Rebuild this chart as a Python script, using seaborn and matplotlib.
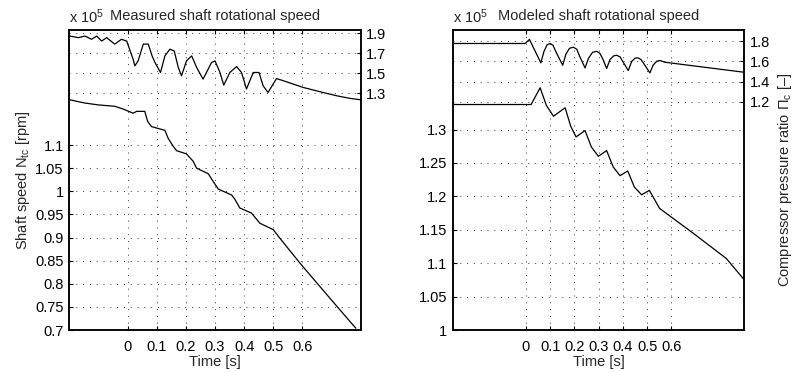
import matplotlib
matplotlib.use("Agg")
import matplotlib.pyplot as plt
import seaborn as sns

# ---------------- data ----------------
# Measured: shaft speed (x1e5 rpm), left axis
meas_speed_t = [-0.198, -0.169, -0.146, -0.101, -0.044, -0.015, 0.019, 0.031, 0.059, 0.069,
                0.082, 0.128, 0.139, 0.157, 0.168, 0.202, 0.225, 0.237, 0.277, 0.294,
                0.311, 0.357, 0.368, 0.385, 0.425, 0.454, 0.5, 0.522, 0.591, 0.66, 0.728, 0.783]
meas_speed_v = [1.198, 1.194, 1.191, 1.187, 1.184, 1.178, 1.169, 1.173, 1.173, 1.151,
                1.140, 1.132, 1.115, 1.097, 1.088, 1.081, 1.065, 1.050, 1.038, 1.021,
                1.005, 0.992, 0.983, 0.964, 0.953, 0.931, 0.917, 0.899, 0.845, 0.794, 0.744, 0.704]

# Measured: compressor pressure ratio, right axis
meas_pr_t = [-0.198, -0.169, -0.146, -0.124, -0.106, -0.089, -0.072, -0.044, -0.021, -0.003,
             0.019, 0.025, 0.036, 0.054, 0.071, 0.084, 0.094, 0.113, 0.128, 0.145,
             0.16, 0.174, 0.185, 0.202, 0.22, 0.237, 0.259, 0.288, 0.3, 0.317,
             0.33, 0.351, 0.374, 0.391, 0.408, 0.431, 0.451, 0.465, 0.482, 0.511,
             0.545, 0.602, 0.66, 0.717, 0.763, 0.797]
meas_pr_v = [1.87, 1.854, 1.87, 1.838, 1.87, 1.82, 1.854, 1.79, 1.838, 1.82,
             1.64, 1.574, 1.623, 1.79, 1.79, 1.673, 1.607, 1.508, 1.673, 1.739,
             1.722, 1.557, 1.475, 1.623, 1.673, 1.557, 1.442, 1.607, 1.623, 1.508,
             1.383, 1.508, 1.567, 1.508, 1.344, 1.508, 1.508, 1.376, 1.31, 1.448,
             1.416, 1.36, 1.317, 1.277, 1.251, 1.238]

# Modeled: shaft speed (x1e5 rpm), left axis
mod_speed_t = [-0.3, 0.022, 0.059, 0.085, 0.114, 0.162, 0.185, 0.207, 0.244, 0.27, 0.299,
               0.333, 0.36, 0.388, 0.42, 0.447, 0.477, 0.509, 0.551, 0.689, 0.826, 0.9]
mod_speed_v = [1.3375, 1.3375, 1.3626, 1.336, 1.32, 1.3326, 1.305, 1.289, 1.2985, 1.274, 1.26,
               1.2685, 1.244, 1.231, 1.238, 1.214, 1.2024, 1.209, 1.182, 1.145, 1.107, 1.075]

# Modeled: compressor pressure ratio, right axis
mod_pr_t = [-0.3, -0.003, 0.015, 0.062, 0.075, 0.088, 0.1, 0.112, 0.125, 0.152,
            0.165, 0.18, 0.196, 0.21, 0.222, 0.244, 0.258, 0.275, 0.292, 0.305,
            0.318, 0.333, 0.347, 0.362, 0.374, 0.388, 0.402, 0.422, 0.436, 0.45,
            0.461, 0.474, 0.49, 0.511, 0.525, 0.54, 0.553, 0.573, 0.9]
mod_pr_v = [1.777, 1.777, 1.817, 1.586, 1.70, 1.765, 1.777, 1.76, 1.69, 1.562,
            1.67, 1.73, 1.74, 1.72, 1.65, 1.536, 1.63, 1.69, 1.70, 1.68,
            1.62, 1.53, 1.62, 1.655, 1.661, 1.645, 1.59, 1.51, 1.60, 1.632,
            1.636, 1.62, 1.565, 1.487, 1.565, 1.603, 1.609, 1.592, 1.493]

xticks = [0, 0.1, 0.2, 0.3, 0.4, 0.5, 0.6]
left_yticks_meas = [0.7, 0.75, 0.8, 0.85, 0.9, 0.95, 1.0, 1.05, 1.1]
right_yticks_meas = [1.3, 1.5, 1.7, 1.9]
left_yticks_mod = [1.0, 1.05, 1.1, 1.15, 1.2, 1.25, 1.3]
right_yticks_mod = [1.2, 1.4, 1.6, 1.8]

# ---------------- style ----------------
sns.set_theme(style="white")
plt.rcParams["font.family"] = ["Liberation Sans", "DejaVu Sans"]
plt.rcParams["mathtext.fontset"] = "custom"
plt.rcParams["mathtext.rm"] = "Liberation Sans"
plt.rcParams["mathtext.it"] = "Liberation Sans:italic"
FS = 10.5
GRID = dict(color="#333333", linestyle=(0, (1, 6)), linewidth=0.7)


def fmt(v):
    return "%g" % v


def style_axes(ax, ax2, xlim, ylim, y2lim, lticks, rticks):
    ax.set_xlim(*xlim)
    ax.set_ylim(*ylim)
    ax2.set_ylim(*y2lim)
    ax.set_xticks(xticks)
    ax.set_xticklabels([fmt(v) for v in xticks], fontsize=FS)
    ax.set_yticks(lticks)
    ax.set_yticklabels([fmt(v) for v in lticks], fontsize=FS)
    ax2.set_yticks(rticks)
    ax2.set_yticklabels([fmt(v) for v in rticks], fontsize=FS)
    ax.grid(True, **GRID)
    ax2.grid(True, **GRID)
    ax.tick_params(axis="x", direction="in", length=3, width=0.8, top=True, bottom=True,
                   pad=7, colors="black")
    ax.tick_params(axis="y", direction="in", length=3, width=0.8, left=True, right=False,
                   pad=4, colors="black")
    ax2.tick_params(direction="in", length=3, width=0.8, right=True, pad=4, colors="black")
    for a in (ax, ax2):
        for s in a.spines.values():
            s.set_color("black")
            s.set_linewidth(1.1)
    ax.set_xlabel("Time [s]", fontsize=FS, labelpad=1)


fig = plt.figure(figsize=(7.93, 3.71), dpi=100)

# ---- left: measured ----
axL = fig.add_axes([0.0874, 0.1105, 0.3675, 0.8086])
axL2 = axL.twinx()
sns.lineplot(x=meas_speed_t, y=meas_speed_v, ax=axL, color="black", linewidth=0.9,
             estimator=None, sort=False)
sns.lineplot(x=meas_pr_t, y=meas_pr_v, ax=axL2, color="black", linewidth=0.9,
             estimator=None, sort=False)
style_axes(axL, axL2, (-0.2, 0.8), (0.7, 1.349), (-1.05, 1.93),
           left_yticks_meas, right_yticks_meas)
axL.set_ylabel(r"Shaft speed N$_\mathregular{tc}$ [rpm]", fontsize=FS, labelpad=2)
axL.set_title("Measured shaft rotational speed", fontsize=FS, pad=7)
fig.text(0.0874, 0.955, r"x 10$^\mathregular{5}$", fontsize=FS, ha="left", va="center")

# ---- right: modeled ----
axR = fig.add_axes([0.5712, 0.1105, 0.3674, 0.8086])
axR2 = axR.twinx()
sns.lineplot(x=mod_speed_t, y=mod_speed_v, ax=axR, color="black", linewidth=0.9,
             estimator=None, sort=False)
sns.lineplot(x=mod_pr_t, y=mod_pr_v, ax=axR2, color="black", linewidth=0.9,
             estimator=None, sort=False)
style_axes(axR, axR2, (-0.3, 0.9), (1.0, 1.449), (-1.05, 1.91),
           left_yticks_mod, right_yticks_mod)
axR2.set_ylabel(r"Compressor pressure ratio $\mathregular{\Pi_c}$ [–]", fontsize=FS, labelpad=4)
axR.set_title("Modeled shaft rotational speed", fontsize=FS, pad=7)
fig.text(0.5712, 0.955, r"x 10$^\mathregular{5}$", fontsize=FS, ha="left", va="center")

fig.savefig("out.png", dpi=100)
